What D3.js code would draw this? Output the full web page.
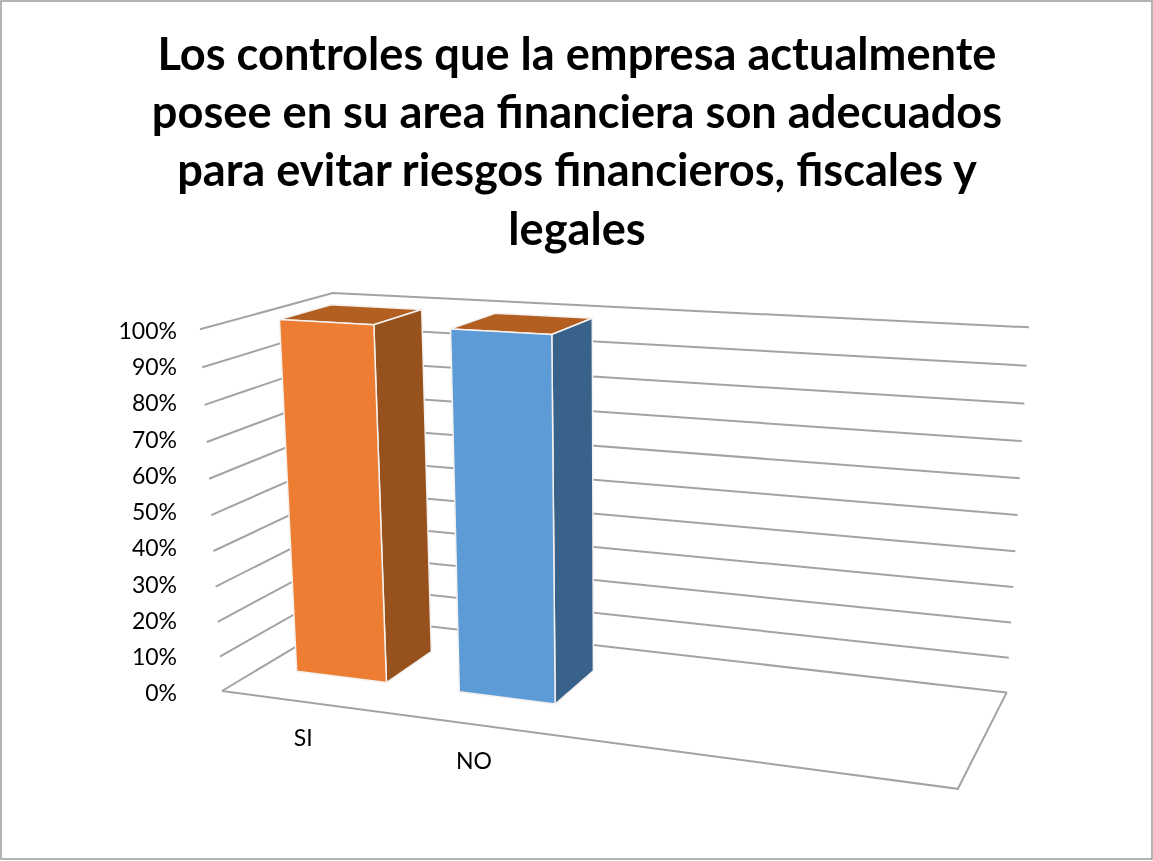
<!DOCTYPE html>
<html>
<head>
<meta charset="utf-8">
<script src="https://cdn.jsdelivr.net/npm/d3@7/dist/d3.min.js"></script>
<style>
html,body{margin:0;padding:0;background:#fff}
svg{display:block}
text{font-family:Lato,"Open Sans",sans-serif;fill:#000}
</style>
</head>
<body>
<svg id="chart" width="1153" height="861"></svg>
<script>
const titleLines = ["Los controles que la empresa actualmente","posee en su area financiera son adecuados","para evitar riesgos financieros, fiscales y","legales"];
const categories = ["SI","NO","\u200b","\u200b\u200b"];
const values = [100,100];
const yTicks = [0,10,20,30,40,50,60,70,80,90,100];
const frontColors = ["#ED7D31","#5B9BD5"];
const sideColors = ["#97511C","#38628A"];
const topColors = ["#B45F21","#B45F21"];

const svg=d3.select("#chart");
const defs=svg.append("defs");
defs.append("filter").attr("id","soft").attr("filterUnits","userSpaceOnUse")
  .attr("x",-400).attr("y",-100).attr("width",1953).attr("height",1061)
  .append("feGaussianBlur").attr("stdDeviation",0.65);

svg.append("rect").attr("x",1).attr("y",1).attr("width",1151).attr("height",858)
  .attr("fill","#fff").attr("stroke","#9a9a9a").attr("stroke-width",1.5);

const titleG=svg.append("g").attr("filter","url(#soft)");
titleG.selectAll("text").data(titleLines).join("text")
  .attr("x",577).attr("y",(d,i)=>70+i*58.2)
  .attr("text-anchor","middle").attr("font-size",45.2).attr("font-weight",700)
  .text(d=>d);

// perspective camera of the 3-D box: three vanishing points and the box's near-left floor corner
const origin=[222,691];
const vpX=[-4600,50], vpD=[1350,15], vpV=[614,7141];
const ax=-0.1324, ad=0.1235, av=-0.0531;
const vScale=d3.scaleLinear([0,100],[0,1]);
function project(u,w,value){
  const v=vScale(value);
  const k=ax*u+ad*w+av*v+1;
  return [0,1].map(i=>(ax*u*vpX[i]+ad*w*vpD[i]+av*v*vpV[i]+origin[i])/k);
}

const uBand=d3.scaleBand().domain(categories).range([0,1]).paddingInner(0.44).paddingOuter(0.22);
const depth=d3.scaleLinear([0,1],[0.3,0.7]);
const line=d3.line();

// gridlines on the two walls
const gridStyle=s=>s.attr("fill","none").attr("stroke","#a3a3a3").attr("stroke-width",2).attr("stroke-linejoin","miter");
const gridG=svg.append("g").attr("filter","url(#soft)");
gridG.selectAll("path.grid").data(yTicks).join("path").attr("class","grid")
  .attr("d",v=>line([project(0,0,v),project(0,1,v),project(1,1,v)]))
  .call(gridStyle);
// floor outline
gridG.append("path")
  .attr("d",line([project(1,1,0),project(1,0,0),project(0,0,0)]))
  .call(gridStyle);

// bars
const barData=values.map((v,i)=>({cat:categories[i],v,i}));
const barG=svg.append("g").attr("filter","url(#soft)");
const bars=barG.selectAll("g").data(barData).join("g");
const uL=d=>uBand(d.cat),uR=d=>uBand(d.cat)+uBand.bandwidth();
const w0=depth(0),w1=depth(1);
const faces=[
  {name:"top",color:d=>topColors[d.i],pts:d=>[project(uL(d),w0,d.v),project(uR(d),w0,d.v),project(uR(d),w1,d.v),project(uL(d),w1,d.v)]},
  {name:"side",color:d=>sideColors[d.i],pts:d=>[project(uR(d),w0,d.v),project(uR(d),w1,d.v),project(uR(d),w1,0),project(uR(d),w0,0)]},
  {name:"front",color:d=>frontColors[d.i],pts:d=>[project(uL(d),w0,d.v),project(uR(d),w0,d.v),project(uR(d),w0,0),project(uL(d),w0,0)]}
];
faces.forEach(f=>{
  bars.append("path").attr("class",f.name)
    .attr("d",d=>line(f.pts(d))+"Z")
    .attr("fill",f.color)
    .attr("stroke","#f4f1ee").attr("stroke-width",1.5).attr("stroke-linejoin","round");
});

// value axis labels
const yLabel=d3.scaleLinear([0,100],[693.5,331]);
const axis=d3.axisLeft(yLabel).tickValues(yTicks).tickSize(0).tickPadding(0).tickFormat(d=>d+"%");
const axisG=svg.append("g").attr("transform","translate(177,0)").attr("filter","url(#soft)").call(axis);
axisG.select(".domain").remove();
axisG.selectAll("text").attr("font-size",23).attr("font-family","Lato,sans-serif").attr("fill","#000");

// category labels
const catG=svg.append("g").attr("filter","url(#soft)");
const catPos=d=>project(uBand(d.cat)+uBand.bandwidth()/2,0,0);
catG.selectAll("text").data(barData).join("text")
  .attr("x",d=>catPos(d)[0])
  .attr("y",d=>catPos(d)[1]+44.5)
  .attr("font-size",23).attr("text-anchor","middle").text(d=>d.cat);
</script>
</body>
</html>
